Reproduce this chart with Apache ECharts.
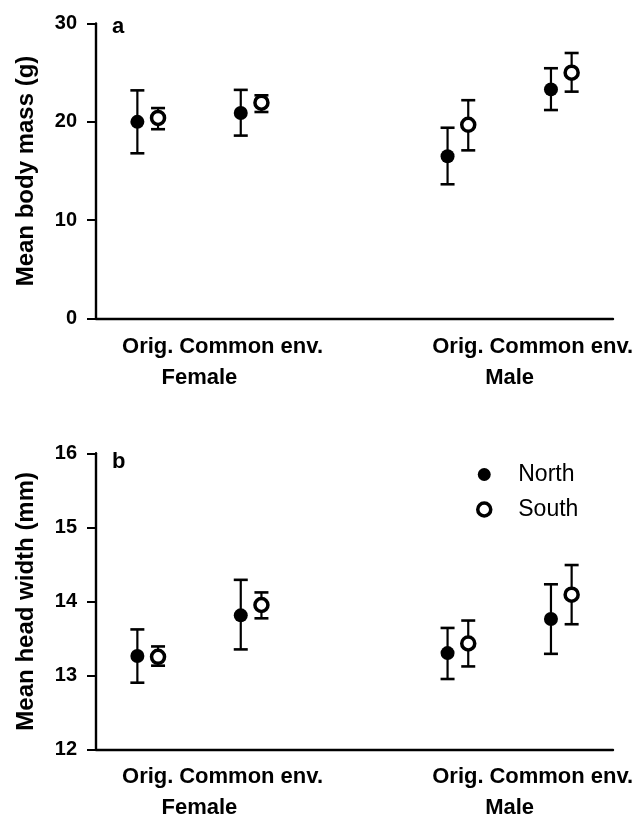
<!DOCTYPE html>
<html>
<head>
<meta charset="utf-8">
<script src="https://cdn.jsdelivr.net/npm/echarts@6/dist/echarts.min.js"></script>
<style>
html,body{margin:0;padding:0;background:#fff;}
#chart{width:644px;height:820px;}
</style>
</head>
<body>
<div id="chart"></div>
<script>
// ---- data ----
var groups = ['Female', 'Male'];
var conditions = ['Orig.', 'Common env.'];
// order: Female-Orig, Female-Common, Male-Orig, Male-Common
var massNorth   = [20.0, 20.9, 16.5, 23.3];
var massNorthLo = [16.8, 18.6, 13.65, 21.2];
var massNorthHi = [23.2, 23.25, 19.4, 25.45];
var massSouth   = [20.4, 21.95, 19.7, 25.0];
var massSouthLo = [19.25, 21.0, 17.1, 23.07];
var massSouthHi = [21.4, 22.7, 22.2, 27.0];
var headNorth   = [13.26, 13.81, 13.30, 13.76];
var headNorthLo = [12.90, 13.35, 12.95, 13.29];
var headNorthHi = [13.62, 14.29, 13.64, 14.23];
var headSouth   = [13.25, 13.95, 13.43, 14.09];
var headSouthLo = [13.13, 13.77, 13.12, 13.69];
var headSouthHi = [13.39, 14.12, 13.74, 14.49];
var massTicks = [0, 30, 10];   // min, max, interval
var headTicks = [12, 16, 1];

// ---- layout helpers ----
var FONT = '"Liberation Sans", Arial, sans-serif';
var DODGE = 0.1;
function slot(i) { var g = Math.floor(i / 2), c = i % 2; return g * 3 + c + 1; }
var catLabels = [conditions[0], conditions[1], '', conditions[0], conditions[1]];

function pts(vals, off) { return vals.map(function (v, i) { return [slot(i) + off, v]; }); }
function errs(lo, hi, off) { return lo.map(function (l, i) { return [slot(i) + off, l, hi[i]]; }); }

function renderErr(params, api) {
  var x = api.value(0);
  var p1 = api.coord([x, api.value(2)]);
  var p2 = api.coord([x, api.value(1)]);
  var w = 7;
  var st = { stroke: '#000', lineWidth: 2.2 };
  return {
    type: 'group',
    children: [
      { type: 'line', shape: { x1: p1[0], y1: p1[1], x2: p2[0], y2: p2[1] }, style: st },
      { type: 'line', shape: { x1: p1[0] - w, y1: p1[1], x2: p1[0] + w, y2: p1[1] }, style: { stroke: '#000', lineWidth: 2.6 } },
      { type: 'line', shape: { x1: p2[0] - w, y1: p2[1], x2: p2[0] + w, y2: p2[1] }, style: { stroke: '#000', lineWidth: 2.6 } }
    ]
  };
}

var grids = [
  { left: 96, right: 31, top: 23.5, height: 295 },
  { left: 96, right: 31, top: 453.3, height: 296 }
];

var xAxes = [], yAxes = [], series = [];
var sets = [
  { name: 'Mean body mass (g)', ticks: massTicks, n: massNorth, nLo: massNorthLo, nHi: massNorthHi, s: massSouth, sLo: massSouthLo, sHi: massSouthHi },
  { name: 'Mean head width (mm)', ticks: headTicks, n: headNorth, nLo: headNorthLo, nHi: headNorthHi, s: headSouth, sLo: headSouthLo, sHi: headSouthHi }
];

sets.forEach(function (d, gi) {
  xAxes.push({
    type: 'category', gridIndex: gi, data: catLabels, boundaryGap: true, position: 'bottom',
    axisLine: { lineStyle: { color: '#000', width: 2.4 } },
    axisTick: { alignWithLabel: true, length: 8, lineStyle: { color: '#000', width: 2 },
      interval: function (idx) { return idx !== 2; } },
    axisLabel: { interval: 0, margin: 17, color: '#000', fontFamily: FONT, fontWeight: 'bold', fontSize: 22 },
    splitLine: { show: false }
  });
  xAxes.push({
    type: 'value', gridIndex: gi, min: 0.5, max: 5.5, interval: 1, position: 'bottom',
    axisLine: { show: false }, axisTick: { show: false }, splitLine: { show: false },
    axisLabel: { margin: 48, color: '#000', fontFamily: FONT, fontWeight: 'bold', fontSize: 22,
      showMinLabel: true, showMaxLabel: true,
      formatter: function (v) {
        if (Math.abs(v - 1.5) < 1e-6) return groups[0];
        if (Math.abs(v - 4.5) < 1e-6) return groups[1];
        return '';
      } }
  });
  yAxes.push({
    type: 'value', gridIndex: gi, min: d.ticks[0], max: d.ticks[1], interval: d.ticks[2],
    name: d.name, nameLocation: 'middle', nameGap: 58,
    nameTextStyle: { color: '#000', fontFamily: FONT, fontWeight: 'bold', fontSize: 24 },
    axisLine: { show: true, lineStyle: { color: '#000', width: 2.4 } },
    axisTick: { show: true, length: 9, lineStyle: { color: '#000', width: 2 } },
    axisLabel: { margin: 19, color: '#000', fontFamily: FONT, fontWeight: 'bold', fontSize: 20 },
    splitLine: { show: false }
  });
  var xi = gi * 2 + 1;
  series.push({
    type: 'custom', name: 'North error', xAxisIndex: xi, yAxisIndex: gi, renderItem: renderErr,
    encode: { x: 0, y: [1, 2] }, data: errs(d.nLo, d.nHi, -DODGE), z: 2, silent: true
  });
  series.push({
    type: 'custom', name: 'South error', xAxisIndex: xi, yAxisIndex: gi, renderItem: renderErr,
    encode: { x: 0, y: [1, 2] }, data: errs(d.sLo, d.sHi, DODGE), z: 2, silent: true
  });
  series.push({
    type: 'scatter', name: 'North', xAxisIndex: xi, yAxisIndex: gi, data: pts(d.n, -DODGE),
    symbol: 'circle', symbolSize: 14, itemStyle: { color: '#000', opacity: 1 }, z: 5
  });
  series.push({
    type: 'scatter', name: 'South', xAxisIndex: xi, yAxisIndex: gi, data: pts(d.s, DODGE),
    symbol: 'circle', symbolSize: 13, itemStyle: { color: '#fff', borderColor: '#000', borderWidth: 3.5, opacity: 1 }, z: 5
  });
});

var option = {
  backgroundColor: '#fff',
  animation: false,
  title: [
    { text: 'a', left: 112, top: 16, padding: 0, textStyle: { color: '#000', fontFamily: FONT, fontWeight: 'bold', fontSize: 22 } },
    { text: 'b', left: 112, top: 451, padding: 0, textStyle: { color: '#000', fontFamily: FONT, fontWeight: 'bold', fontSize: 22 } }
  ],
  legend: {
    orient: 'vertical', left: 476, top: 463, padding: 0,
    itemWidth: 58, itemHeight: 13, itemGap: 12,
    textStyle: { color: '#000', fontFamily: FONT, fontSize: 23, lineHeight: 23 },
    data: [
      { name: 'North', icon: 'circle', itemStyle: { color: '#000', borderWidth: 0 } },
      { name: 'South', icon: 'circle', itemStyle: { color: '#fff', borderColor: '#000', borderWidth: 3.5 } }
    ]
  },
  grid: grids,
  xAxis: xAxes,
  yAxis: yAxes,
  series: series
};

var chart = echarts.init(document.getElementById('chart'), null, { renderer: 'canvas' });
chart.setOption(option);
</script>
</body>
</html>
